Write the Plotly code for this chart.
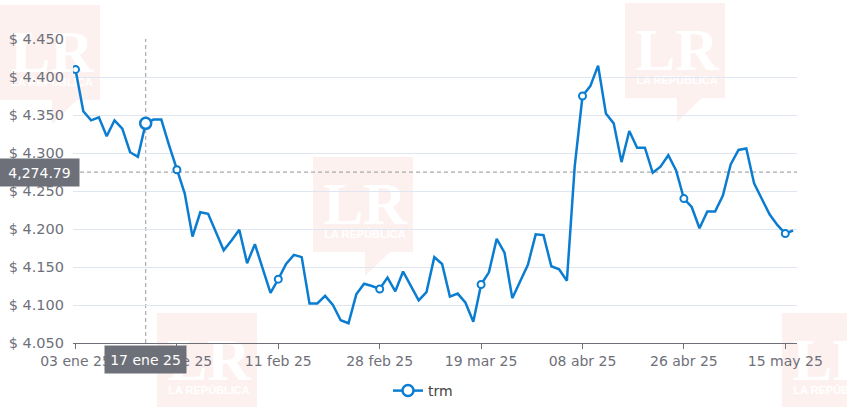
import plotly.graph_objects as go

# ---------------- data ----------------
dates = [
    "03 ene 25", "04 ene 25", "08 ene 25", "09 ene 25", "10 ene 25", "11 ene 25", "14 ene 25",
    "15 ene 25", "16 ene 25", "17 ene 25", "18 ene 25", "21 ene 25", "22 ene 25", "23 ene 25",
    "24 ene 25", "25 ene 25", "28 ene 25", "29 ene 25", "30 ene 25", "31 ene 25", "01 feb 25",
    "04 feb 25", "05 feb 25", "06 feb 25", "07 feb 25", "08 feb 25", "11 feb 25", "12 feb 25",
    "13 feb 25", "14 feb 25", "15 feb 25", "18 feb 25", "19 feb 25", "20 feb 25", "21 feb 25",
    "22 feb 25", "25 feb 25", "26 feb 25", "27 feb 25", "28 feb 25", "01 mar 25", "04 mar 25",
    "05 mar 25", "06 mar 25", "07 mar 25", "08 mar 25", "11 mar 25", "12 mar 25", "13 mar 25",
    "14 mar 25", "15 mar 25", "18 mar 25", "19 mar 25", "20 mar 25", "21 mar 25", "22 mar 25",
    "26 mar 25", "27 mar 25", "28 mar 25", "29 mar 25", "01 abr 25", "02 abr 25", "03 abr 25",
    "04 abr 25", "05 abr 25", "08 abr 25", "09 abr 25", "10 abr 25", "11 abr 25", "12 abr 25",
    "15 abr 25", "16 abr 25", "17 abr 25", "18 abr 25", "22 abr 25", "23 abr 25", "24 abr 25",
    "25 abr 25", "26 abr 25", "29 abr 25", "30 abr 25", "01 may 25", "02 may 25", "03 may 25",
    "06 may 25", "07 may 25", "08 may 25", "09 may 25", "10 may 25", "13 may 25", "14 may 25",
    "15 may 25", "16 may 25",
]

trm = [
    4410, 4355, 4343, 4347, 4322, 4343, 4332, 4301, 4295, 4339,
    4344, 4344, 4310, 4278, 4247, 4190, 4222, 4220, 4196, 4172,
    4185, 4199, 4155, 4180, 4148, 4116, 4134, 4154, 4166, 4163,
    4102, 4102, 4112, 4100, 4080, 4076, 4114, 4128, 4125, 4121,
    4136, 4118, 4144, 4125, 4106, 4117, 4163, 4154, 4111, 4115,
    4103, 4078, 4127, 4143, 4187, 4169, 4109, 4131, 4153, 4193,
    4192, 4151, 4147, 4132, 4282, 4375, 4388, 4415, 4352, 4339,
    4288, 4329, 4307, 4307, 4274, 4282, 4297, 4277, 4240, 4229,
    4201, 4223, 4223, 4244, 4285, 4304, 4306, 4260, 4239, 4219,
    4205, 4194, 4198,
]

marker_idx = [0, 13, 26, 39, 52, 65, 78, 91]
tick_idx = [0, 13, 26, 39, 52, 65, 78, 91]
hover_idx = 9
crosshair_value = 4274.79
crosshair_label = "4,274.79"
y_ticks = [4050, 4100, 4150, 4200, 4250, 4300, 4350, 4400, 4450]
y_tick_text = ["$ " + f"{v:,}".replace(",", ".") for v in y_ticks]
series_name = "trm"

# ---------------- styles ----------------
BLUE = "#0b7dd1"
GRAY = "#6E7079"
GRID = "#E0E6F1"
FONT = "DejaVu Sans"

W, H = 847, 407
PL, PR, PT, PB = 73, 797, 39, 343


def px(x):
    return (x - PL) / (PR - PL)


def py(y):
    return (PB - y) / (PB - PT)


fig = go.Figure()

fig.add_trace(go.Scatter(
    x=dates, y=trm, mode="lines",
    line=dict(color=BLUE, width=2.5),
    showlegend=False, hoverinfo="skip",
))

fig.add_trace(go.Scatter(
    x=[dates[i] for i in marker_idx], y=[trm[i] for i in marker_idx],
    mode="markers",
    marker=dict(size=7, color="white", line=dict(color=BLUE, width=2)),
    showlegend=False, hoverinfo="skip",
))

fig.add_trace(go.Scatter(
    x=[dates[hover_idx]], y=[trm[hover_idx]],
    mode="markers",
    marker=dict(size=11, color="white", line=dict(color=BLUE, width=2.5)),
    showlegend=False, hoverinfo="skip",
))

fig.add_trace(go.Scatter(
    x=[None], y=[None], mode="lines+markers", name=series_name,
    line=dict(color=BLUE, width=2.5),
    marker=dict(size=11, color="white", line=dict(color=BLUE, width=2.5)),
))

shapes = []
# watermarks (decorative LR logos)
wm_boxes = [(0, 5), (313, 157), (625, 3), (157, 313), (782, 313)]
for (lx, ty) in wm_boxes:
    rx, by = lx + 100, ty + 95
    t1, t2 = lx + 52, lx + 77
    path = (f"M {px(lx)},{py(ty)} L {px(rx)},{py(ty)} L {px(rx)},{py(by)} "
            f"L {px(t2)},{py(by)} L {px(t1)},{py(by + 24)} L {px(t1)},{py(by)} "
            f"L {px(lx)},{py(by)} Z")
    shapes.append(dict(type="path", path=path, xref="paper", yref="paper",
                       fillcolor="rgba(231,76,60,0.08)", line=dict(width=0), layer="below"))
    cx, cy = lx + 52, ty + 40
    shapes.append(dict(type="rect", xref="paper", yref="paper",
                       x0=px(cx - 45), x1=px(cx + 45), y0=py(cy + 30), y1=py(cy - 30),
                       fillcolor="rgba(0,0,0,0)", line=dict(width=0), layer="below",
                       label=dict(text="<b>LR</b>", textposition="middle center",
                                  font=dict(family="Liberation Serif", size=60, color="white"))))
    cy2 = ty + 76
    shapes.append(dict(type="rect", xref="paper", yref="paper",
                       x0=px(cx - 45), x1=px(cx + 45), y0=py(cy2 + 8), y1=py(cy2 - 8),
                       fillcolor="rgba(0,0,0,0)", line=dict(width=0), layer="below",
                       label=dict(text="<b>LA REPÚBLICA</b>", textposition="middle center",
                                  font=dict(family="Liberation Sans Narrow, Liberation Sans", size=11,
                                            color="white"))))

# crosshair
shapes.append(dict(type="line", xref="x", yref="paper", x0=dates[hover_idx], x1=dates[hover_idx],
                   y0=0, y1=1, line=dict(color="#aaaaaa", width=1.2, dash="4px,3px"), layer="below"))
shapes.append(dict(type="line", xref="paper", yref="y", x0=0, x1=1,
                   y0=crosshair_value, y1=crosshair_value,
                   line=dict(color="#aaaaaa", width=1.2, dash="4px,3px"), layer="below"))

annotations = [
    dict(xref="paper", yref="y", x=px(39.5), y=crosshair_value, text=crosshair_label,
         showarrow=False, bgcolor="#6E7079", font=dict(family=FONT, size=14, color="white"),
         width=71, height=19, borderpad=4, xanchor="center", yanchor="middle"),
    dict(xref="x", yref="paper", x=dates[hover_idx], y=py(359.5), text=dates[hover_idx],
         showarrow=False, bgcolor="#6E7079", font=dict(family=FONT, size=14, color="white"),
         width=71, height=17, borderpad=5, xanchor="center", yanchor="middle"),
]

fig.update_layout(
    width=W, height=H,
    margin=dict(l=PL, r=W - PR, t=PT, b=H - PB, autoexpand=False),
    paper_bgcolor="white", plot_bgcolor="rgba(0,0,0,0)",
    separators=",.",
    font=dict(family=FONT, size=14, color=GRAY),
    shapes=shapes, annotations=annotations,
    showlegend=True,
    legend=dict(orientation="h", x=px(423), xanchor="center", y=py(391), yanchor="middle",
                font=dict(family=FONT, size=14, color="#444"), bgcolor="rgba(0,0,0,0)"),
    hovermode=False,
)

fig.update_xaxes(
    type="category", categoryorder="array", categoryarray=dates,
    range=[-0.32, 92.5], automargin=False,
    tickmode="array", tickvals=[dates[i] for i in tick_idx], ticktext=[dates[i] for i in tick_idx],
    showgrid=False, showline=True, linecolor=GRAY, linewidth=1,
    ticks="outside", ticklen=5, tickcolor=GRAY,
    tickfont=dict(family=FONT, size=14, color=GRAY),
    zeroline=False,
)

fig.update_yaxes(
    range=[4050, 4450], automargin=False,
    tickmode="array", tickvals=y_ticks, ticktext=y_tick_text,
    showgrid=True, gridcolor=GRID, gridwidth=1,
    showline=False, zeroline=False, ticks="", ticklabelstandoff=8,
    tickfont=dict(family=FONT, size=14.5, color=GRAY),
)

fig.write_html(
    "out.html",
    config={"displayModeBar": False},
    post_script="document.body.style.margin='0';document.body.style.overflow='hidden';",
)
